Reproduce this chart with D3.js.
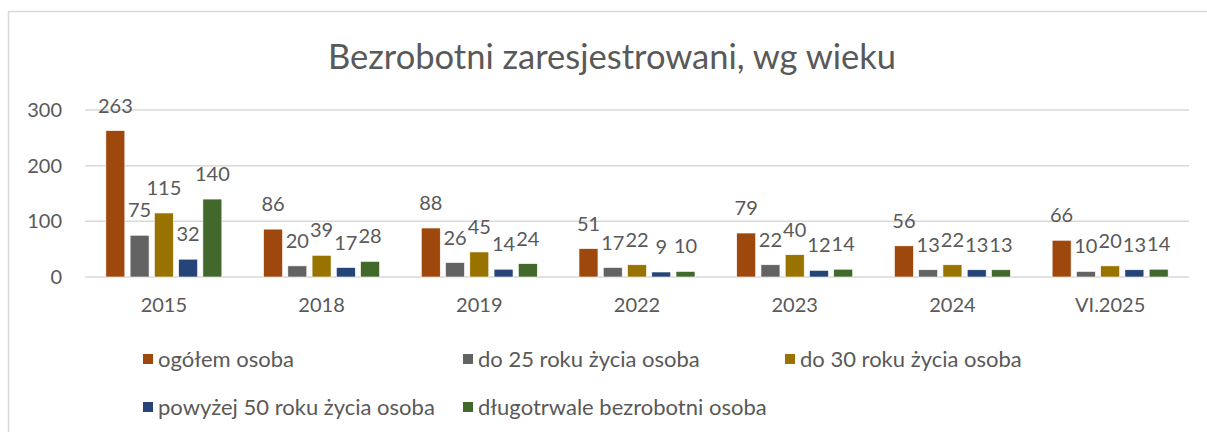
<!DOCTYPE html>
<html>
<head>
<meta charset="utf-8">
<script src="https://cdn.jsdelivr.net/npm/d3@7"></script>
<style>
  body { margin: 0; background: #fff; }
  text { font-family: Lato, "Open Sans", sans-serif; fill: #595959; }
</style>
</head>
<body>
<div id="chart"></div>
<script>
var categories = ["2015", "2018", "2019", "2022", "2023", "2024", "VI.2025"];
var seriesNames = ["ogółem osoba", "do 25 roku życia osoba", "do 30 roku życia osoba",
                   "powyżej 50 roku życia osoba", "długotrwale bezrobotni osoba"];
var ogolem     = [263, 86, 88, 51, 79, 56, 66];
var do25       = [75, 20, 26, 17, 22, 13, 10];
var do30       = [115, 39, 45, 22, 40, 22, 20];
var powyzej50  = [32, 17, 14, 9, 12, 13, 13];
var dlugotrwale = [140, 28, 24, 10, 14, 13, 14];
var yTicks = [0, 100, 200, 300];
var colors = ["#9E480E", "#636363", "#997300", "#264478", "#43682B"];

function init() {
    var w = 1207;
    var h = 432;
    var left = 85, right = 1189;
    var top = 110, bottom = 277; // y of 300 and 0

    var values = [ogolem, do25, do30, powyzej50, dlugotrwale];

    var svg = d3.select("#chart")
        .append("svg")
        .attr("width", w)
        .attr("height", h);

    // chart frame (only top and left edges are visible)
    svg.append("path")
        .attr("d", "M8.5,432 V11.5 H1207")
        .attr("fill", "none")
        .attr("stroke", "#D9D9D9")
        .attr("stroke-width", 1.5);

    var x0 = d3.scaleBand()
        .domain(categories)
        .range([left, right]);

    var x1 = d3.scaleBand()
        .domain(d3.range(seriesNames.length))
        .range([0, x0.bandwidth()])
        .paddingInner(0.218)
        .paddingOuter(0.86);

    var y = d3.scaleLinear()
        .domain([0, 300])
        .range([bottom, top]);

    // gridlines
    svg.append("g")
        .selectAll("line")
        .data(yTicks)
        .enter()
        .append("line")
        .attr("x1", left)
        .attr("x2", right)
        .attr("y1", function (d) { return y(d); })
        .attr("y2", function (d) { return y(d); })
        .attr("stroke", "#D9D9D9")
        .attr("stroke-width", 1.5);

    // y tick labels
    svg.append("g")
        .selectAll("text")
        .data(yTicks)
        .enter()
        .append("text")
        .attr("x", 62)
        .attr("y", function (d) { return y(d) + 7; })
        .attr("text-anchor", "end")
        .attr("font-size", "20px")
        .text(function (d) { return d; });

    // x category labels
    svg.append("g")
        .selectAll("text")
        .data(categories)
        .enter()
        .append("text")
        .attr("x", function (d) { return x0(d) + x0.bandwidth() / 2; })
        .attr("y", 312)
        .attr("text-anchor", "middle")
        .attr("font-size", "20px")
        .text(function (d) { return d; });

    // bars and labels
    var groups = svg.append("g")
        .selectAll("g")
        .data(categories)
        .enter()
        .append("g")
        .attr("transform", function (d) { return "translate(" + x0(d) + ",0)"; });

    groups.selectAll("rect")
        .data(function (d, i) {
            return values.map(function (s, k) { return { k: k, v: s[i] }; });
        })
        .enter()
        .append("rect")
        .attr("x", function (d) { return x1(d.k); })
        .attr("width", x1.bandwidth())
        .attr("y", function (d) { return y(d.v); })
        .attr("height", function (d) { return y(0) - y(d.v); })
        .attr("fill", function (d) { return colors[d.k]; })
        .attr("stroke", "#ffffff")
        .attr("stroke-width", 0.6);

    groups.selectAll("text")
        .data(function (d, i) {
            return values.map(function (s, k) { return { k: k, v: s[i] }; });
        })
        .enter()
        .append("text")
        .attr("x", function (d) { return x1(d.k) + x1.bandwidth() / 2; })
        .attr("y", function (d) { return y(d.v) - 18; })
        .attr("text-anchor", "middle")
        .attr("font-size", "20px")
        .attr("fill", "#404040")
        .text(function (d) { return d.v; });

    // title
    svg.append("text")
        .attr("x", 612)
        .attr("y", 69)
        .attr("text-anchor", "middle")
        .attr("font-size", "34.5px")
        .text("Bezrobotni zaresjestrowani, wg wieku");

    // legend
    var legendPos = [[143, 359], [463, 359], [785, 359], [143, 407], [463, 407]];
    var legend = svg.append("g")
        .selectAll("g")
        .data(seriesNames)
        .enter()
        .append("g")
        .attr("transform", function (d, i) {
            return "translate(" + legendPos[i][0] + "," + legendPos[i][1] + ")";
        });

    legend.append("rect")
        .attr("x", 0)
        .attr("y", -5)
        .attr("width", 10)
        .attr("height", 10)
        .attr("fill", function (d, i) { return colors[i]; });

    legend.append("text")
        .attr("x", 15)
        .attr("y", 8)
        .attr("font-size", "22px")
        .text(function (d) { return d; });
}

window.onload = init;
</script>
</body>
</html>
